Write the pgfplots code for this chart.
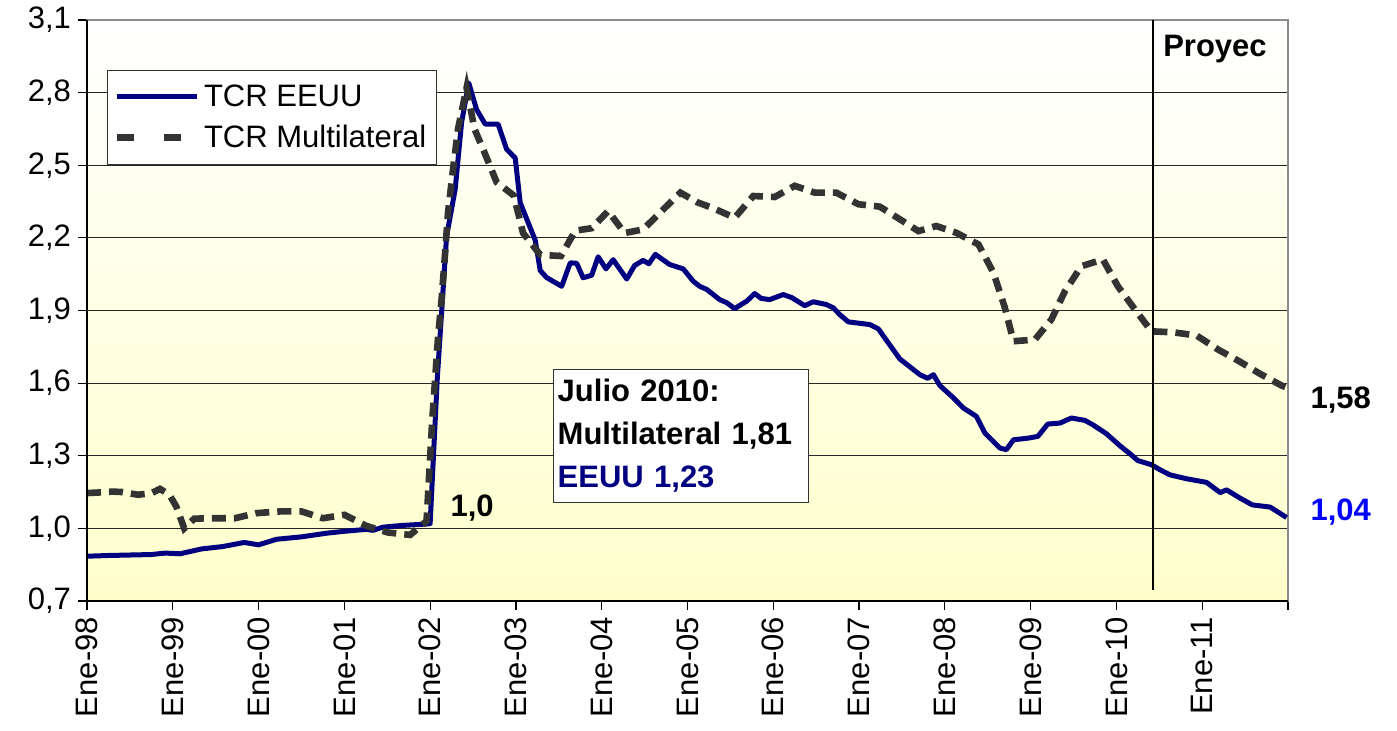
\documentclass[border=0pt]{standalone}
\usepackage{fontspec}
\setmainfont{Liberation Sans}
\usepackage{pgfplots}
\pgfplotsset{compat=1.18}
\definecolor{navyc}{RGB}{0,0,128}
\definecolor{dgray}{RGB}{51,51,51}
\definecolor{bgy}{RGB}{255,255,204}
\newcommand{\fs}{\fontsize{15.5}{18.6}\selectfont}
\begin{document}
\begin{tikzpicture}
\path[use as bounding box] (-43.5pt,-64.5pt) rectangle (655pt,300.5pt);
\begin{axis}[
  at={(0pt,0pt)}, anchor=south west,
  scale only axis, width=600.5pt, height=290.5pt,
  xmin=0, xmax=168, ymin=0.7, ymax=3.1,
  clip=false,
  axis background/.style={top color=white, bottom color=bgy},
  axis line style={draw=black!45, line width=0.8pt},
  ytick={0.7,1.0,1.3,1.6,1.9,2.2,2.5,2.8,3.1},
  xtick={0,12,24,36,48,60,72,84,96,108,120,132,144,156,168},
  xticklabels={Ene-98,Ene-99,Ene-00,Ene-01,Ene-02,Ene-03,Ene-04,Ene-05,Ene-06,Ene-07,Ene-08,Ene-09,Ene-10,Ene-11,{}},
  xtick pos=bottom, ytick pos=left,
  tick align=outside, major tick length=4.5pt,
  tick style={black, line width=0.6pt},
  ymajorgrids, grid style={black!85, line width=0.6pt},
  tick label style={font=\fs},
  /pgf/number format/assume math mode=true,
  yticklabel style={/pgf/number format/.cd, fixed, fixed zerofill, precision=1, use comma},
  xticklabel style={rotate=90, anchor=east},
  legend style={at={(rel axis cs:0.0167,0.914)}, anchor=north west, draw=black!80, fill=white,
    font=\fs, inner xsep=3pt, inner ysep=5pt, row sep=4pt,
    nodes={inner sep=2pt}},
  legend cell align=left,
  legend image code/.code={\draw[#1] (0pt,0pt) -- (40pt,0pt);},
]
\addplot[navyc, line width=2.5pt, line join=round] coordinates {
(0,0.885) (3,0.888) (6,0.890) (9,0.892) (11,0.898) (13,0.895) (16,0.915) (19,0.925)
(22,0.942) (24,0.932) (26.5,0.955) (30,0.965) (33.5,0.980) (36,0.988) (39.1,0.996)
(40,0.992) (41.4,1.005) (44,1.012) (47.5,1.018) (48,1.02) (49,1.62) (50.3,2.207)
(51.5,2.40) (52.4,2.677) (53.4,2.84) (54.5,2.73) (55.7,2.67) (57.5,2.67) (58.7,2.566)
(59.9,2.53) (60.6,2.345) (62.7,2.19) (63.4,2.065) (64.3,2.036) (66.4,2.0) (67.6,2.097)
(68.5,2.095) (69.4,2.035) (70.6,2.046) (71.5,2.122) (72.6,2.072) (73.6,2.11) (75.5,2.03)
(76.6,2.086) (77.8,2.107) (78.6,2.093) (79.5,2.132) (81.5,2.09) (83.4,2.072) (84.8,2.021)
(85.7,2.0) (86.7,1.987) (88.5,1.945) (89.5,1.932) (90.6,1.908) (92.3,1.939) (93.4,1.97)
(94.3,1.95) (95.5,1.945) (97.4,1.966) (98.6,1.953) (100.4,1.92) (101.6,1.936) (103.4,1.925)
(104.4,1.911) (105.3,1.883) (106.5,1.853) (109.5,1.842) (110.7,1.824) (112,1.77) (113.7,1.70)
(116.5,1.635) (117.6,1.62) (118.4,1.635) (119.3,1.59) (121.2,1.539) (122.6,1.497) (124.4,1.463)
(125.6,1.394) (127.7,1.332) (128.6,1.325) (129.6,1.366) (131.7,1.373) (133,1.38) (134.4,1.431)
(136.1,1.435) (137.7,1.456) (139.6,1.446) (140.7,1.428) (142.6,1.391) (144.5,1.341) (145.9,1.308)
(147,1.28) (148.9,1.263) (150.1,1.242) (151.5,1.221) (153.8,1.205) (156.6,1.19) (158.5,1.148)
(159.4,1.159) (161.3,1.125) (163,1.097) (165.5,1.088) (167.8,1.045)
};
\addlegendentry{TCR EEUU}
\addplot[dgray, line width=3.3pt, dash pattern=on 7pt off 4pt,
  legend image code/.code={\draw[dgray, line width=3.3pt, dash pattern=on 8.5pt off 15pt] (0pt,0pt) -- (32pt,0pt); \path (40pt,0pt);}]
coordinates {
(0,1.146) (1.5,1.148) (3.6,1.152) (5,1.15) (7.1,1.139) (9,1.145) (10.2,1.163) (11.5,1.14)
(12.5,1.09) (13.6,1.0) (15,1.04) (17.2,1.042) (20.7,1.042) (23.7,1.063) (27,1.07) (30,1.07)
(33,1.042) (36,1.056) (39.1,1.01) (42.1,0.983) (45.2,0.973) (47.5,1.03) (48.3,1.45)
(49.1,1.787) (49.6,1.946) (50.1,2.14) (50.5,2.304) (51.2,2.483) (51.9,2.65) (53.1,2.82)
(54.2,2.65) (55.5,2.56) (57.3,2.43) (59.7,2.375) (61,2.22) (63.4,2.13) (66.3,2.125)
(68.3,2.23) (70.6,2.24) (72.9,2.311) (75.2,2.22) (77.8,2.235) (80.4,2.311) (83,2.387)
(85.3,2.348) (87.8,2.32) (90.6,2.283) (93.2,2.373) (96.2,2.369) (99,2.415) (101.8,2.387)
(104.8,2.387) (107.9,2.339) (110.9,2.329) (113.7,2.277) (116.3,2.228) (118.8,2.249)
(121.6,2.221) (124.7,2.173) (126.8,2.056) (128.4,1.911) (129.6,1.773) (132.6,1.78)
(134.9,1.863) (136.8,1.98) (139.1,2.083) (142.1,2.111) (144.2,2.0) (146.6,1.904)
(148.9,1.814) (151.9,1.81) (155.2,1.797) (158.2,1.739) (161.2,1.69) (164,1.64) (167.1,1.59) (168,1.58)
};
\addlegendentry{TCR Multilateral}
% black left and bottom axis lines
\draw[black, line width=0.8pt] (rel axis cs:0,1) -- (rel axis cs:0,0) -- (rel axis cs:1,0);
% projection line
\draw[black, line width=1pt] (axis cs:149.1,3.1) -- (axis cs:149.1,0.745);
\node[anchor=west, inner sep=0pt, font=\fs\bfseries] at (axis cs:150.5,2.98) {Proyec};
\node[anchor=west, inner sep=0pt, font=\fs\bfseries] at (axis cs:50.8,1.085) {1,0};
\node[anchor=west, inner sep=0pt, font=\fs\bfseries] at (axis cs:171.1,1.532) {1,58};
\node[anchor=west, inner sep=0pt, font=\fs\bfseries, text=blue] at (axis cs:171.1,1.068) {1,04};
\node[anchor=north west, draw=black!80, line width=0.6pt, fill=white, align=left,
  inner xsep=2pt, inner ysep=5pt, text width=123.5pt,
  font=\fontsize{15.5}{21.5}\selectfont\bfseries] at (axis cs:65.2,1.66)
  {Julio 2010:\\Multilateral 1,81\\\textcolor{navyc}{EEUU 1,23}};
\end{axis}
\end{tikzpicture}
\end{document}
